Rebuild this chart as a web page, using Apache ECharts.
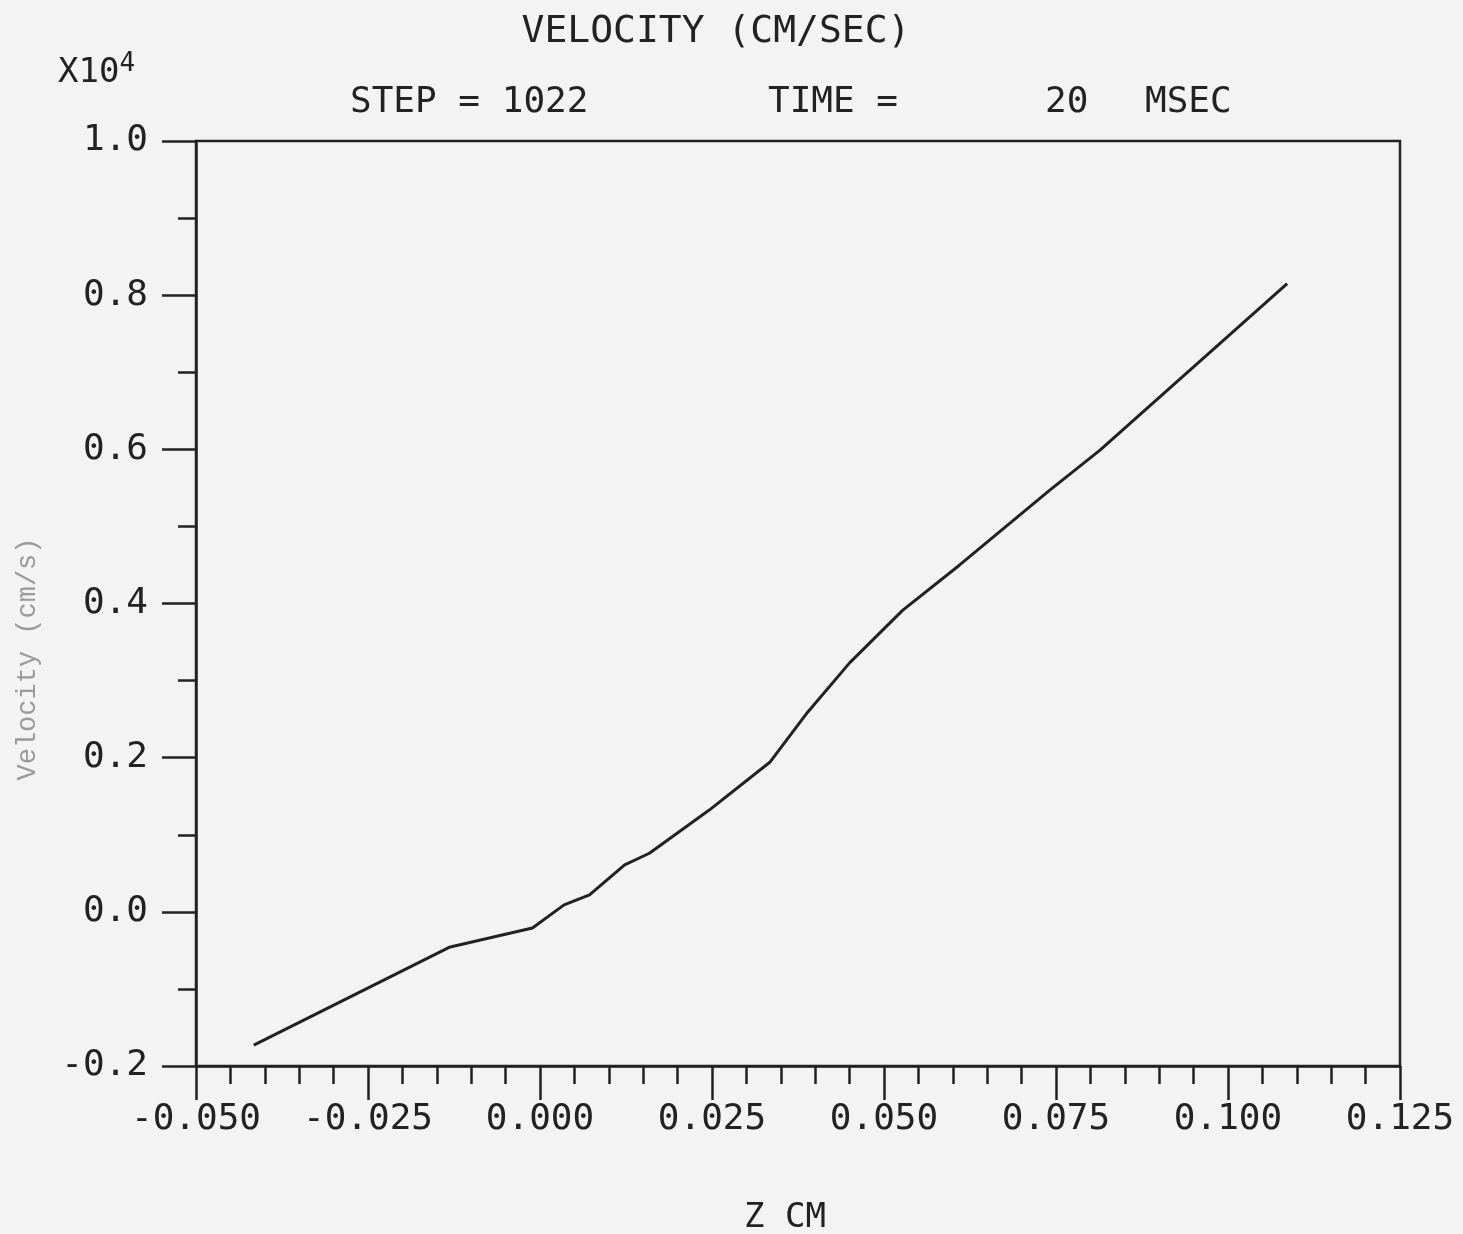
<!DOCTYPE html>
<html>
<head>
<meta charset="utf-8">
<script src="https://cdn.jsdelivr.net/npm/echarts@6/dist/echarts.min.js"></script>
<style>
html,body{margin:0;padding:0;background:#f3f3f3;}
#chart{width:1463px;height:1234px;}
</style>
</head>
<body>
<div id="chart"></div>
<script>
// Data (Z in cm, velocity in units of 1e4 cm/s)
const zValues = [-0.0416, -0.0132, -0.0011, 0.0035, 0.0072, 0.0123, 0.0159, 0.0246, 0.0334, 0.0389, 0.0450, 0.0527, 0.0610, 0.0741, 0.0814, 0.1086];
const velocityValues = [-0.173, -0.046, -0.021, 0.009, 0.022, 0.061, 0.076, 0.132, 0.194, 0.259, 0.323, 0.391, 0.450, 0.547, 0.599, 0.815];
const titleText = 'VELOCITY (CM/SEC)';
const stepText = 'STEP = 1022';
const timeLabel = 'TIME =';
const timeValue = '20';
const timeUnit = 'MSEC';
const xAxisName = 'Z CM';
const yAxisName = 'Velocity (cm/s)';
const scaleLabel = 'X10';
const scaleExp = '4';

const mono = "'DejaVu Sans Mono', 'Liberation Mono', monospace";
const ink = '#222';

const chart = echarts.init(document.getElementById('chart'), null, {renderer: 'canvas'});
const seriesData = zValues.map((z, i) => [z, velocityValues[i]]);

const tStyle = {fontFamily: mono, fontSize: 36, fontWeight: 'normal', color: ink};

chart.setOption({
  backgroundColor: '#f3f3f3',
  animation: false,
  title: [
    {text: titleText, left: 711, top: 8, textAlign: 'center', textStyle: Object.assign({}, tStyle, {fontSize: 38})},
    {text: stepText, left: 345, top: 80, textStyle: tStyle},
    {text: timeLabel, left: 763, top: 80, textStyle: tStyle},
    {text: timeValue, left: 1040, top: 80, textStyle: tStyle},
    {text: timeUnit, left: 1140, top: 80, textStyle: tStyle},
    {text: scaleLabel + '{sup|' + scaleExp + '}', left: 53, top: 46,
     textStyle: {fontFamily: mono, fontSize: 34, fontWeight: 'normal', color: ink,
       rich: {sup: {fontFamily: mono, fontSize: 26, color: ink, verticalAlign: 'top', padding: [0, 0, 18, 0]}}}}
  ],
  graphic: [
    {type: 'text', x: 28, y: 659, rotation: Math.PI / 2,
     style: {text: yAxisName, fontFamily: "'Liberation Mono', 'DejaVu Sans Mono', monospace", fontSize: 27,
       fill: '#9a9a9a', textAlign: 'center', textVerticalAlign: 'middle'}},
    {type: 'text', x: 785, y: 1218,
     style: {text: xAxisName, fontFamily: mono, fontSize: 34, fill: ink, textAlign: 'center', textVerticalAlign: 'middle'}}
  ],
  grid: {left: 196, right: 63, top: 141, bottom: 168, outerBoundsMode: 'none', containLabel: false,
         show: true, borderColor: ink, borderWidth: 2.5, backgroundColor: 'transparent'},
  xAxis: {
    type: 'value', min: -0.05, max: 0.125, interval: 0.025,
    axisLine: {show: true, onZero: false, lineStyle: {color: ink, width: 2.5}},
    axisTick: {show: true, inside: false, length: 34, lineStyle: {color: ink, width: 2.5}},
    minorTick: {show: true, splitNumber: 5, length: 18, lineStyle: {color: ink, width: 2.5}},
    splitLine: {show: false},
    minorSplitLine: {show: false},
    axisLabel: {margin: 36, fontFamily: mono, fontSize: 36, color: ink,
      formatter: v => v.toFixed(3)}
  },
  yAxis: {
    type: 'value', min: -0.2, max: 1.0, interval: 0.2,
    axisLine: {show: true, onZero: false, lineStyle: {color: ink, width: 2.5}},
    axisTick: {show: true, inside: false, length: 34, lineStyle: {color: ink, width: 2.5}},
    minorTick: {show: true, splitNumber: 2, length: 18, lineStyle: {color: ink, width: 2.5}},
    splitLine: {show: false},
    minorSplitLine: {show: false},
    axisLabel: {margin: 48, fontFamily: mono, fontSize: 36, color: ink,
      formatter: v => v.toFixed(1)}
  },
  series: [{
    type: 'line', data: seriesData, showSymbol: false, smooth: false,
    lineStyle: {color: ink, width: 3}
  }]
});
</script>
</body>
</html>
